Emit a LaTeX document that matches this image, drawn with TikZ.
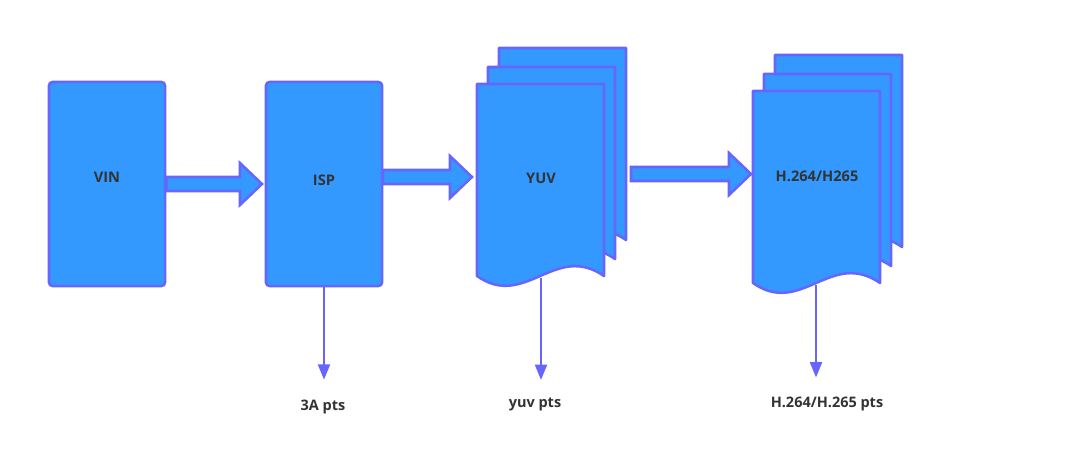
\documentclass[tikz,border=0pt]{standalone}
\usepackage{fontspec}
\setmainfont{Open Sans}
\usetikzlibrary{calc}
\usetikzlibrary{arrows.meta}

\definecolor{boxfill}{HTML}{3399FF}
\definecolor{boxline}{HTML}{6666FF}
\definecolor{labeltext}{HTML}{333333}

\begin{document}
\begin{tikzpicture}[x=0.025cm, y=-0.025cm,
    stage/.style={draw=boxline, fill=boxfill, line width=1.8pt, rounded corners=2.5pt,
                  minimum width=2.9cm, minimum height=5.1cm, inner sep=0pt},
    sheet/.style={draw=boxline, fill=boxfill, line width=1.8pt, line join=round},
    name text/.style={text=labeltext, font=\bfseries\fontsize{10.4}{12}\selectfont},
    pts text/.style={text=labeltext, font=\bfseries\fontsize{10.3}{12}\selectfont, inner sep=0pt},
    fat arrow/.style={draw=boxline, fill=boxfill, line width=1.8pt, line join=miter},
    pts arrow/.style={draw=boxline, line width=1.8pt, -{Triangle[length=11pt,width=8.5pt]}}]

            \useasboundingbox (0,0) rectangle (1068,458);

            % Draw the two processing stages
            \node[stage, name text, text depth=0.35cm] (vin) at (107,184) {VIN};
            \node[stage, name text, text depth=0.2cm] (isp) at (324,184) {ISP};

            % Draw the stacked sheets (back to front)
            \foreach \x/\y in {477/84, 753/91} {
                \foreach \dx/\dy in {22/-36, 11/-17, 0/0} {
                    \begin{scope}[shift={(\x+\dx,\y+\dy)}]
                        \filldraw[sheet] (0,0) -- (127,0) -- (127,192)
                            .. controls (78,158) and (48,226) .. (0,192) -- cycle;
                    \end{scope}
                }
            }
            \node[name text] (yuv) at (541,178) {YUV};
            \node[name text] (enc) at (817,176) {H.264/H265};
            \coordinate (yuvbot) at (541,278);
            \coordinate (encbot) at (816,285);

            % Define the ends of the block arrows
            \coordinate (a1s) at (vin.east);
            \coordinate (a1e) at (262,184);
            \coordinate (a2s) at (383,177);
            \coordinate (a2e) at (472,177);
            \coordinate (a3s) at (631,174);
            \coordinate (a3e) at (751,174);

            % Draw the block arrows
            \foreach \s/\e in {a1s/a1e, a2s/a2e, a3s/a3e} {
                \filldraw[fat arrow] ($(\s)+(0,-7)$) -- ($(\e)+(-22,-7)$) -- ($(\e)+(-22,-21)$)
                    -- (\e) -- ($(\e)+(-22,21)$) -- ($(\e)+(-22,7)$) -- ($(\s)+(0,7)$) -- cycle;
            }

            % Draw the pts outputs
            \node[pts text] (isppts) at (323,407) {3A pts};
            \node[pts text] (yuvpts) at (535,404) {yuv pts};
            \node[pts text] (encpts) at (827,404) {H.264/H.265 pts};
            \draw[pts arrow, shorten >=0.5cm] (isp.south) -- (isp.south |- isppts.north);
            \draw[pts arrow, shorten >=0.43cm] (yuvbot) -- (yuvbot |- yuvpts.north);
            \draw[pts arrow, shorten >=0.48cm] (encbot) -- (encbot |- encpts.north);

        \end{tikzpicture}
\end{document}
